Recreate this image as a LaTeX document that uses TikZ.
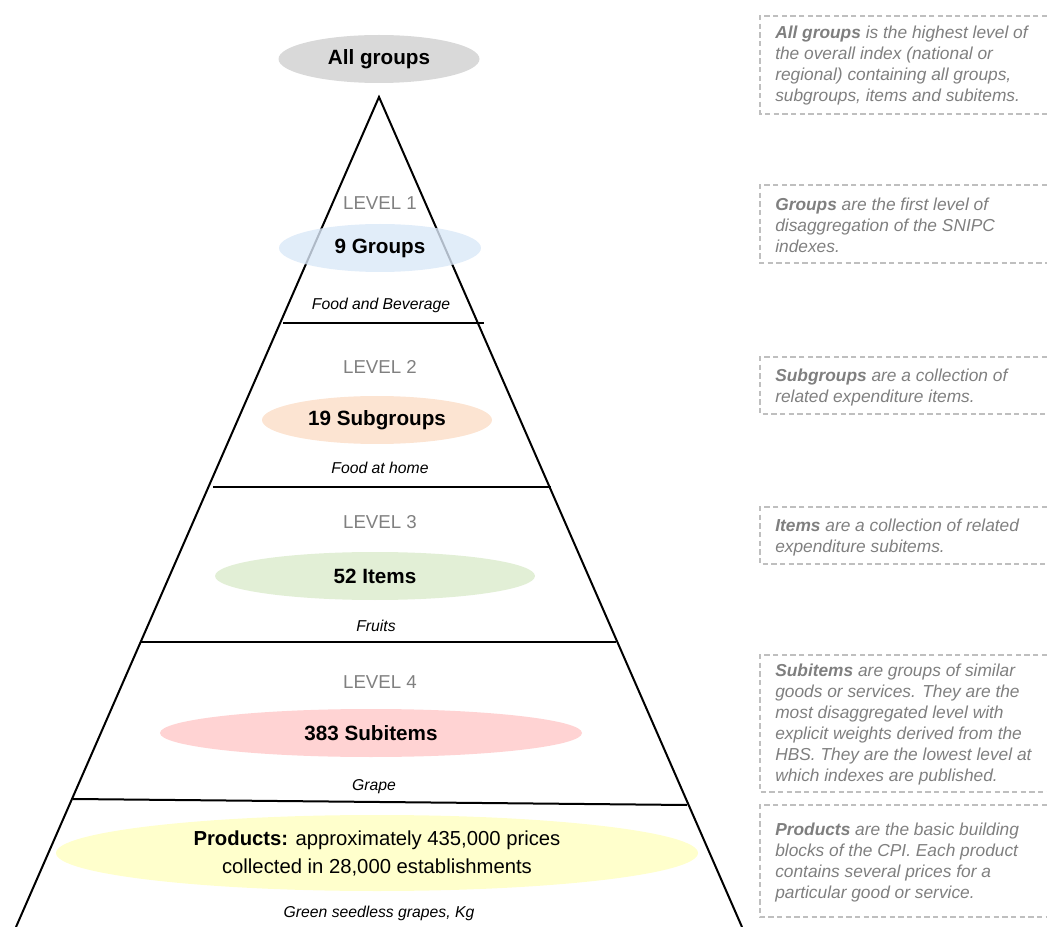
\documentclass[tikz,border=0pt]{standalone}
\usepackage{fontspec}
\setmainfont{Liberation Sans}
\usetikzlibrary{shapes.geometric}
\definecolor{allgray}{HTML}{D9D9D9}
\definecolor{grpblue}{HTML}{DAE8F8}
\definecolor{subpeach}{HTML}{FCE4D2}
\definecolor{itgreen}{HTML}{E2EFD6}
\definecolor{sipink}{HTML}{FFD3D3}
\definecolor{proyel}{HTML}{FFFFCC}
\definecolor{lvlgray}{HTML}{808080}
\definecolor{descgray}{HTML}{7F7F7F}
\definecolor{boxgray}{HTML}{BFBFBF}
\begin{document}
\begin{tikzpicture}[x=0.75pt,y=-0.75pt,
  lab/.style={ellipse, inner sep=0pt, minimum height=36pt, font=\fontsize{15.5}{18}\selectfont\bfseries},
  lvl/.style={text=lvlgray, inner sep=0pt, font=\fontsize{14}{16}\selectfont},
  ex/.style={inner sep=0pt, font=\fontsize{11.8}{13}\selectfont\itshape},
  desc/.style={anchor=north west, inner sep=0pt, align=left, text=descgray, font=\fontsize{13}{15.75}\selectfont\itshape},
  dbox/.style={draw=boxgray, dash pattern=on 4pt off 2.5pt, line width=0.8pt},
  pyr/.style={line width=1.5pt}
]
\useasboundingbox (0,0) rectangle (1047,927);

% pyramid
\coordinate (apex) at (379,97);
\coordinate (bl) at (16,927);
\coordinate (br) at (742,927);

% ellipses
\node[lab, fill=allgray, minimum width=150.75pt] (all) at (379,59) {All groups};
\node[lab, fill=subpeach, minimum width=172.5pt] (sub) at (377,420) {19 Subgroups};
\node[lab, fill=itgreen, minimum width=240pt] (items) at (375,576) {52 Items};
\node[lab, fill=sipink, minimum width=316.5pt] (subit) at (371,733) {383 Subitems};
\node[ellipse, inner sep=0pt, fill=proyel, minimum width=481.5pt, minimum height=57pt,
      align=center, font=\fontsize{15.2}{21}\selectfont] (prod) at (377,853)
      {\textbf{Products:} approximately 435,000 prices\\collected in 28,000 establishments};

\draw[pyr] (bl) -- (apex) -- (br);
\draw[pyr] (283,323) -- (484,323);
\draw[pyr] (213,487) -- (551,487);
\draw[pyr] (140,642) -- (616,642);
\draw[pyr] (73,799) -- (687,805);

\node[lab, fill=grpblue, fill opacity=0.8, text opacity=1, minimum width=151.5pt] (grp) at (380,248) {9 Groups};

% levels
\node[lvl] (lv1) at (380,203) {LEVEL 1};
\node[lvl] (lv2) at (380,367) {LEVEL 2};
\node[lvl] (lv3) at (380,522) {LEVEL 3};
\node[lvl] (lv4) at (380,682) {LEVEL 4};

% examples
\node[ex] (ex1) at (381,305) {Food and Beverage};
\node[ex] (ex2) at (380,468) {Food at home};
\node[ex] (ex3) at (376,626) {Fruits};
\node[ex] (ex4) at (374,787) {Grape};
\node[ex] (ex5) at (379,913) {Green seedless grapes, Kg};

% description boxes
\draw[dbox] (1047,16) -| (760,114) -- (1047,114);
\draw[dbox] (1047,185) -| (760,263) -- (1047,263);
\draw[dbox] (1047,357) -| (760,414) -- (1047,414);
\draw[dbox] (1047,507) -| (760,564) -- (1047,564);
\draw[dbox] (1047,655) -| (760,792) -- (1047,792);
\draw[dbox] (1047,805) -| (760,917) -- (1047,917);

\node[desc] (d1) at (775,26) {\textbf{All groups} is the highest level of\\the overall index (national or\\regional) containing all groups,\\subgroups, items and subitems.};
\node[desc] (d2) at (775,198) {\textbf{Groups} are the first level of\\disaggregation of the SNIPC\\indexes.};
\node[desc] (d3) at (775,369) {\textbf{Subgroups} are a collection of\\related expenditure items.};
\node[desc] (d4) at (775,519) {\textbf{Items} are a collection of related\\expenditure subitems.};
\node[desc] (d5) at (775,664) {\textbf{Subitems} are groups of similar\\goods or services. They are the\\most disaggregated level with\\explicit weights derived from the\\HBS. They are the lowest level at\\which indexes are published.};
\node[desc] (d6) at (775,823) {\textbf{Products} are the basic building\\blocks of the CPI. Each product\\contains several prices for a\\particular good or service.};
\end{tikzpicture}
\end{document}
